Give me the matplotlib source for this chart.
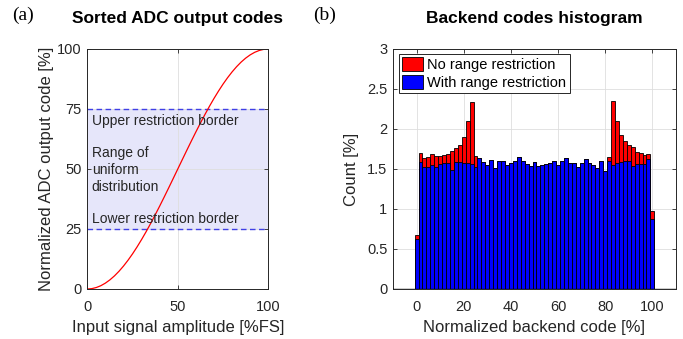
import matplotlib
matplotlib.use("Agg")
import matplotlib.pyplot as plt
import numpy as np

plt.rcParams['font.family'] = ['Liberation Sans', 'DejaVu Sans']

# ---- Panel (a) data: sorted ADC output codes ----
amp_pct = [0, 2.5, 5, 7.5, 10, 12.5, 15, 17.5, 20, 22.5, 25, 27.5, 30, 32.5, 35, 37.5,
           40, 42.5, 45, 47.5, 50, 52.5, 55, 57.5, 60, 62.5, 65, 67.5, 70, 72.5, 75,
           77.5, 80, 82.5, 85, 87.5, 90, 92.5, 95, 97.5, 100]
code_pct = [0, 0.15, 0.62, 1.38, 2.45, 3.81, 5.45, 7.37, 9.55, 11.98, 14.64, 17.53,
            20.61, 23.87, 27.30, 30.87, 34.55, 38.33, 42.18, 46.08, 50, 53.92, 57.82,
            61.67, 65.45, 69.13, 72.70, 76.13, 79.39, 82.47, 85.36, 88.02, 90.45,
            92.63, 94.55, 96.19, 97.55, 98.62, 99.38, 99.85, 100]
lower_border = 25
upper_border = 75

# ---- Panel (b) data: backend codes histogram ----
bin_width = 100 / 60
bin_centers = [i * bin_width for i in range(61)]
no_restriction = [0.68, 1.70, 1.64, 1.65, 1.69, 1.665, 1.665, 1.68, 1.69, 1.72,
                  1.76, 1.80, 1.90, 2.10, 2.335, 1.66,
                  1.635, 1.59, 1.555, 1.61, 1.51, 1.60, 1.595, 1.55, 1.58, 1.60,
                  1.65, 1.605, 1.56, 1.54, 1.585, 1.54, 1.55, 1.56, 1.58, 1.595,
                  1.555, 1.595, 1.635, 1.58, 1.575, 1.53, 1.575, 1.63, 1.58, 1.545,
                  1.51, 1.605, 1.48,
                  1.65, 2.35, 2.10, 1.92, 1.85, 1.80, 1.77, 1.71, 1.70, 1.68, 1.685,
                  0.97]
with_restriction = [0.62, 1.585, 1.52, 1.53, 1.55, 1.52, 1.56, 1.575, 1.58, 1.49,
                    1.585, 1.585, 1.575, 1.57, 1.565, 1.53,
                    1.635, 1.59, 1.555, 1.61, 1.51, 1.60, 1.595, 1.55, 1.58, 1.60,
                    1.65, 1.605, 1.56, 1.54, 1.585, 1.54, 1.55, 1.56, 1.58, 1.595,
                    1.555, 1.595, 1.635, 1.58, 1.575, 1.53, 1.575, 1.63, 1.58, 1.545,
                    1.51, 1.605, 1.48,
                    1.595, 1.55, 1.57, 1.59, 1.60, 1.60, 1.54, 1.56, 1.56, 1.56, 1.625,
                    0.88]

TXT = '#262626'
GRID = '#dedede'

fig = plt.figure(figsize=(6.83, 3.39), dpi=100)
ax1 = fig.add_axes([0.1278, 0.1475, 0.265, 0.708])
ax2 = fig.add_axes([0.5754, 0.1475, 0.4143, 0.708])

def style(ax):
    ax.tick_params(direction='in', length=3, width=0.6, colors=TXT, labelsize=10.5,
                   top=True, right=True, pad=4)
    ax.tick_params(axis='x', pad=8)
    for s in ax.spines.values():
        s.set_color(TXT)
        s.set_linewidth(0.7)
    ax.grid(True, color=GRID, linewidth=0.6)
    ax.set_axisbelow(True)

# Panel (a)
style(ax1)
ax1.axhspan(lower_border, upper_border, color=(0.9, 0.9, 0.98), zorder=0.5, lw=0)
ax1.axhline(lower_border, color=(0.25, 0.25, 0.9), ls=(0, (4, 2.5)), lw=1.0)
ax1.axhline(upper_border, color=(0.25, 0.25, 0.9), ls=(0, (4, 2.5)), lw=1.0)
ax1.plot(amp_pct, code_pct, color='red', lw=0.9)
ax1.set_xlim(0, 100)
ax1.set_ylim(0, 100)
ax1.set_xticks([0, 50, 100])
ax1.set_yticks([0, 25, 50, 75, 100])
ax1.text(2.4, 70, 'Upper restriction border', fontsize=10, color=TXT, va='center')
ax1.text(2.4, 49.6, 'Range of\nuniform\ndistribution', fontsize=10, color=TXT,
         va='center', linespacing=1.25)
ax1.text(2.4, 29.2, 'Lower restriction border', fontsize=10, color=TXT, va='center')
ax1.set_xlabel('Input signal amplitude [%FS]', fontsize=12, color=TXT, labelpad=4)
ax1.set_ylabel('Normalized ADC output code [%]', fontsize=12, color=TXT, labelpad=2)
ax1.set_title('Sorted ADC output codes', fontsize=12.5, fontweight='bold',
              color='black', pad=19)

# Panel (b)
style(ax2)
ax2.bar(bin_centers, no_restriction, width=bin_width, color='#ff0000',
        edgecolor='black', linewidth=0.6, label='No range restriction')
ax2.bar(bin_centers, with_restriction, width=bin_width, color='#0000ff',
        edgecolor='black', linewidth=0.6, label='With range restriction')
ax2.plot([-10, 110], [0, 0], color='black', lw=1.0, zorder=3)
ax2.set_xlim(-10, 110)
ax2.set_ylim(0, 3)
ax2.set_xticks([0, 20, 40, 60, 80, 100])
ax2.set_yticks([0, 0.5, 1, 1.5, 2, 2.5, 3])
ax2.set_yticklabels(['0', '0.5', '1', '1.5', '2', '2.5', '3'])
ax2.set_xlabel('Normalized backend code [%]', fontsize=12, color=TXT, labelpad=4)
ax2.set_ylabel('Count [%]', fontsize=12, color=TXT, labelpad=6)
ax2.set_title('Backend codes histogram', fontsize=12.5, fontweight='bold',
              color='black', pad=19)
leg = ax2.legend(loc='upper left', bbox_to_anchor=(0.02, 0.98), fontsize=10.5,
                 frameon=True, fancybox=False, edgecolor=TXT, framealpha=1,
                 handlelength=1.4, handleheight=1.1, handletextpad=0.3,
                 borderpad=0.25, labelspacing=0.15, borderaxespad=0)
leg.get_frame().set_linewidth(0.7)
for t in leg.get_texts():
    t.set_color('black')

fig.text(0.018, 0.955, '(a)', fontsize=14, family='Liberation Serif', va='center')
fig.text(0.458, 0.955, '(b)', fontsize=14, family='Liberation Serif', va='center')

fig.savefig('out.png', dpi=100)
